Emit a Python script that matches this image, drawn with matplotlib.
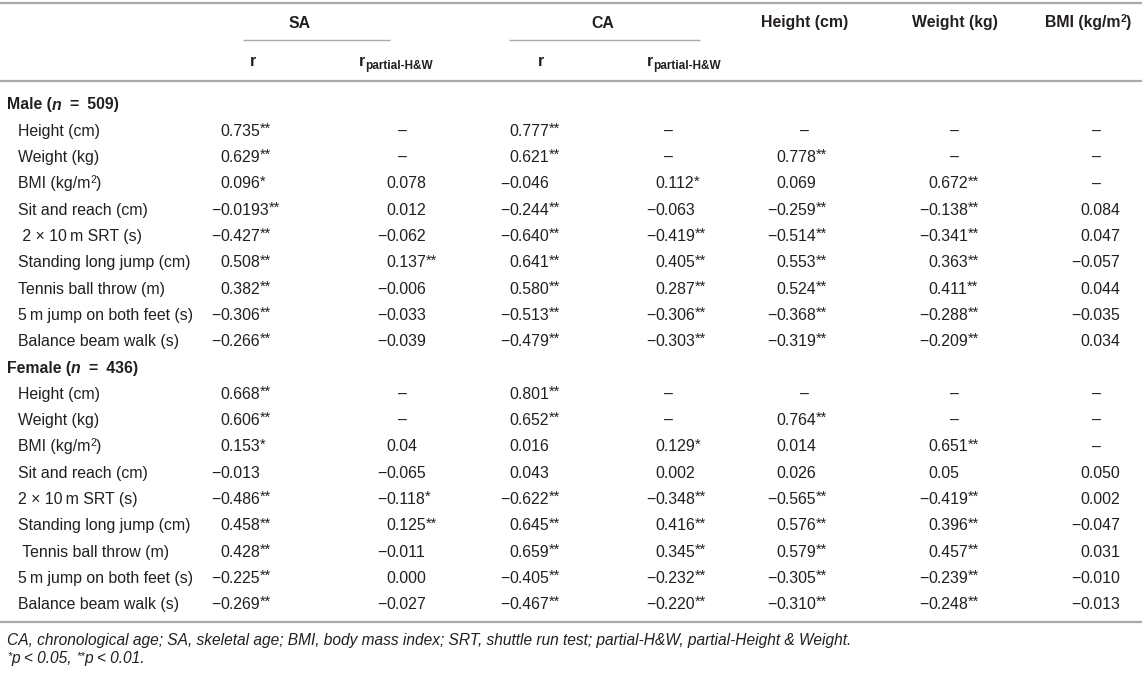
import matplotlib
matplotlib.use("Agg")
import matplotlib.pyplot as plt

plt.rcParams["font.family"] = ["Liberation Sans", "DejaVu Sans"]

W, H = 1142, 673
INK = "#231f20"
RULE = "#a7a9ac"

# ── data ────────────────────────────────────────────────────────────
row_labels = ["Height (cm)", "Weight (kg)", "BMI (kg/m²)", "Sit and reach (cm)",
              " 2 × 10\u2009m SRT (s)", "Standing long jump (cm)",
              "Tennis ball throw (m)", "5\u2009m jump on both feet (s)",
              "Balance beam walk (s)"]
female_labels = ["Height (cm)", "Weight (kg)", "BMI (kg/m²)", "Sit and reach (cm)",
                 "2 × 10\u2009m SRT (s)", "Standing long jump (cm)",
                 " Tennis ball throw (m)", "5\u2009m jump on both feet (s)",
                 "Balance beam walk (s)"]
groups = [("Male", "509"), ("Female", "436")]

male_sa_r = ["0.735**", "0.629**", "0.096*", "−0.0193**", "−0.427**", "0.508**", "0.382**", "−0.306**", "−0.266**"]
male_sa_p = ["–", "–", "0.078", "0.012", "−0.062", "0.137**", "−0.006", "−0.033", "−0.039"]
male_ca_r = ["0.777**", "0.621**", "−0.046", "−0.244**", "−0.640**", "0.641**", "0.580**", "−0.513**", "−0.479**"]
male_ca_p = ["–", "–", "0.112*", "−0.063", "−0.419**", "0.405**", "0.287**", "−0.306**", "−0.303**"]
male_height = ["–", "0.778**", "0.069", "−0.259**", "−0.514**", "0.553**", "0.524**", "−0.368**", "−0.319**"]
male_weight = ["–", "–", "0.672**", "−0.138**", "−0.341**", "0.363**", "0.411**", "−0.288**", "−0.209**"]
male_bmi = ["–", "–", "–", "0.084", "0.047", "−0.057", "0.044", "−0.035", "0.034"]

female_sa_r = ["0.668**", "0.606**", "0.153*", "−0.013", "−0.486**", "0.458**", "0.428**", "−0.225**", "−0.269**"]
female_sa_p = ["–", "–", "0.04", "−0.065", "−0.118*", "0.125**", "−0.011", "0.000", "−0.027"]
female_ca_r = ["0.801**", "0.652**", "0.016", "0.043", "−0.622**", "0.645**", "0.659**", "−0.405**", "−0.467**"]
female_ca_p = ["–", "–", "0.129*", "0.002", "−0.348**", "0.416**", "0.345**", "−0.232**", "−0.220**"]
female_height = ["–", "0.764**", "0.014", "0.026", "−0.565**", "0.576**", "0.579**", "−0.305**", "−0.310**"]
female_weight = ["–", "–", "0.651**", "0.05", "−0.419**", "0.396**", "0.457**", "−0.239**", "−0.248**"]
female_bmi = ["–", "–", "–", "0.050", "0.002", "−0.047", "0.031", "−0.010", "−0.013"]

male_cols = [male_sa_r, male_sa_p, male_ca_r, male_ca_p, male_height, male_weight, male_bmi]
female_cols = [female_sa_r, female_sa_p, female_ca_r, female_ca_p, female_height, female_weight, female_bmi]

footnote1 = ("CA, chronological age; SA, skeletal age; BMI, body mass index; SRT, shuttle run test; "
             "partial-H&W, partial-Height & Weight.")

# column layout (pixels): where digits start, where a dash sits
digit_x = [220, 386, 509, 655, 776, 928, 1080]
dash_x = [250, 403, 540, 668, 805, 955, 1097]

FS = 11.4
FS_STAR = 10.5
FS_SUP = 7.5

fig = plt.figure(figsize=(W / 100, H / 100), dpi=100)
fig.patch.set_facecolor("white")
ax = fig.add_axes([0, 0, 1, 1])
ax.set_xlim(0, W); ax.set_ylim(H, 0); ax.axis("off")
fig.canvas.draw()
R = fig.canvas.get_renderer()


def runs(x, y, parts, ha="left"):
    """draw text pieces side by side; parts = (text, kwargs, dy)"""
    arts = []
    for s, kw, dy in parts:
        t = ax.text(0, y + dy, s, va="baseline", ha="left", color=INK, **kw)
        arts.append(t)
    widths = [t.get_window_extent(R).width for t in arts]
    total = sum(widths)
    x0 = x if ha == "left" else (x - total / 2 if ha == "center" else x - total)
    for t, w in zip(arts, widths):
        t.set_x(x0)
        x0 += w
    return total


def value(col, y, s):
    if s == "–":
        ax.text(dash_x[col], y, s, ha="center", va="baseline", fontsize=FS, color=INK)
        return
    stars = len(s) - len(s.rstrip("*"))
    core = s.rstrip("*")
    if core.startswith("−"):
        ax.text(digit_x[col], y, "−", ha="right", va="baseline", fontsize=FS, color=INK)
        core = core[1:]
    parts = [(core, dict(fontsize=FS), 0)]
    if stars:
        parts.append(("*" * stars, dict(fontsize=FS_STAR), -3))
    runs(digit_x[col], y, parts)


def base(yc):
    return yc + 5.5


# rules
ax.plot([0, W], [3, 3], color=RULE, lw=1.6, solid_capstyle="butt")
ax.plot([243, 390], [40, 40], color=RULE, lw=1.0, solid_capstyle="butt")
ax.plot([509, 700], [40, 40], color=RULE, lw=1.0, solid_capstyle="butt")
ax.plot([0, W], [81, 81], color=RULE, lw=1.6, solid_capstyle="butt")
ax.plot([0, W], [622, 622], color=RULE, lw=1.6, solid_capstyle="butt")

# header
bold = dict(fontsize=FS, fontweight="bold")
runs(300, base(22), [("SA", bold, 0)], ha="center")
runs(603, base(22), [("CA", bold, 0)], ha="center")
runs(805, base(22), [("Height (cm)", bold, 0)], ha="center")
runs(955, base(22), [("Weight (kg)", bold, 0)], ha="center")
runs(1088, base(22), [("BMI (kg/m", bold, 0), ("2", dict(fontsize=FS_SUP, fontweight="bold"), -5),
                      (")", bold, 0)], ha="center")
runs(253, base(60), [("r", bold, 0)], ha="center")
runs(541, base(60), [("r", bold, 0)], ha="center")
sub = dict(fontsize=8.5, fontweight="bold")
runs(396, base(60), [("r", bold, 0), ("partial-H&W", sub, 3)], ha="center")
runs(684, base(60), [("r", bold, 0), ("partial-H&W", sub, 3)], ha="center")

# body
pitch = 26.3
y = 104
for (gname, n), labels, cols in zip(groups, [row_labels, female_labels], [male_cols, female_cols]):
    runs(7, base(y), [(gname + " (", bold, 0),
                      ("n", dict(fontsize=FS, fontweight="bold", fontstyle="italic"), 0),
                      ("\u2002=\u2002" + n + ")", bold, 0)])
    y += pitch
    for i, lab in enumerate(labels):
        if "²" in lab:
            runs(18, base(y), [("BMI (kg/m", dict(fontsize=FS), 0), ("2", dict(fontsize=FS_SUP), -5),
                               (")", dict(fontsize=FS), 0)])
        else:
            ax.text(18, base(y), lab, ha="left", va="baseline", fontsize=FS, color=INK)
        for c, col in enumerate(cols):
            value(c, base(y), col[i])
        y += pitch

# footnotes
it = dict(fontsize=11.2, fontstyle="italic")
star_it = dict(fontsize=8, fontstyle="italic")
ax.text(7, base(640) - 1, footnote1, ha="left", va="baseline", color=INK, **it)
runs(7, base(659) - 1, [("*", star_it, -4), ("p < 0.05, ", it, 0),
                        ("**", star_it, -4), ("p < 0.01.", it, 0)])

fig.savefig("out.png", dpi=100, facecolor="white")
